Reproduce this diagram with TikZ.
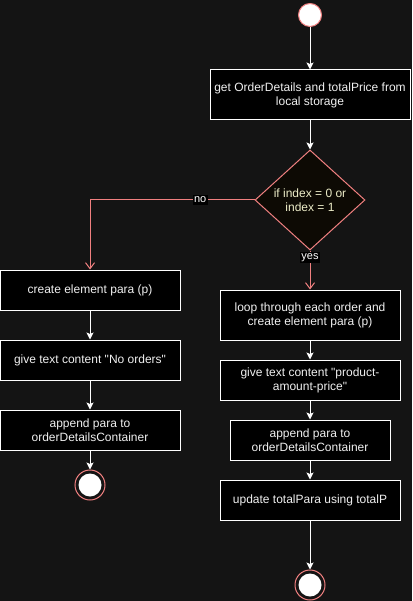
\documentclass[tikz,border=0pt]{standalone}
\usepackage{fontspec}
\setmainfont{Liberation Sans}[Ligatures=TeXOff]
\usetikzlibrary{shapes.geometric,arrows.meta}
\definecolor{bgdark}{HTML}{141414}
\definecolor{flowred}{HTML}{F08080}
\definecolor{condfill}{HTML}{0D0A04}
\definecolor{condtext}{HTML}{EDEDC8}
\definecolor{boxtext}{HTML}{F0F0F0}
\begin{document}
\begin{tikzpicture}[x=1pt,y=-1pt,
  box/.style={draw=white,fill=black,text=boxtext,line width=1pt,minimum width=180pt,minimum height=40pt,align=center,inner sep=0pt,font=\fontsize{12}{14}\selectfont},
  decision/.style={diamond,draw=flowred,fill=condfill,text=condtext,line width=1pt,aspect=1.1,inner sep=-2pt,minimum width=110pt,minimum height=100pt,align=center,font=\fontsize{12}{14}\selectfont},
  startnode/.style={circle,draw=flowred,fill=white,line width=1pt,minimum size=23pt,inner sep=0pt},
  endnode/.style={circle,draw=flowred,fill=bgdark,line width=1pt,minimum size=30pt,inner sep=0pt,
    path picture={\fill[white] (path picture bounding box.center) circle (11.5pt);}},
  flow/.style={draw=white,line width=1pt,-{Stealth[length=7pt,width=7pt,inset=1.5pt]}},
  branch/.style={draw=flowred,line width=1pt,-{Straight Barb[length=6pt,width=9pt]}},
  tag/.style={fill=black,text=white,inner sep=1.5pt,font=\fontsize{11}{12}\selectfont}]
\fill[bgdark] (0,0) rectangle (412,601);
\useasboundingbox (0,0) rectangle (412,601);

\node[startnode] (start) at (310,15) {};
\node[box,minimum width=200pt,minimum height=50pt] (load) at (310,95) {get OrderDetails and totalPrice from\\local storage};
\node[decision] (cond) at (310,200) {if index = 0 or\\index = 1};

\node[box] (createp) at (90,290) {create element para (p)};
\node[box] (noorders) at (90,360) {give text content "No orders"};
\node[box] (appendl) at (90,430) {append para to\\orderDetailsContainer};
\node[endnode] (endl) at (90,485) {};

\node[box,minimum height=50pt] (loop) at (310,315) {loop through each order and\\create element para (p)};
\node[box] (content) at (310,380) {give text content "product-\\amount-price"};
\node[box,minimum width=160pt] (appendr) at (310,440) {append para to\\orderDetailsContainer};
\node[box] (update) at (310,500) {update totalPara using totalP};
\node[endnode] (endr) at (310,585) {};

\draw[flow] (start) -- (load);
\draw[flow] (load) -- (cond);
\draw[branch] (cond.west) -| node[tag,pos=0.165] {no} (createp.north);
\draw[branch] (cond.south) -- node[tag,pos=0.18] {yes} (loop.north);
\draw[flow] (createp) -- (noorders);
\draw[flow] (noorders) -- (appendl);
\draw[flow] (appendl) -- (endl);
\draw[flow] (loop) -- (content);
\draw[flow] (content) -- (appendr);
\draw[flow] (appendr) -- (update);
\draw[flow] (update) -- (endr);
\end{tikzpicture}
\end{document}
